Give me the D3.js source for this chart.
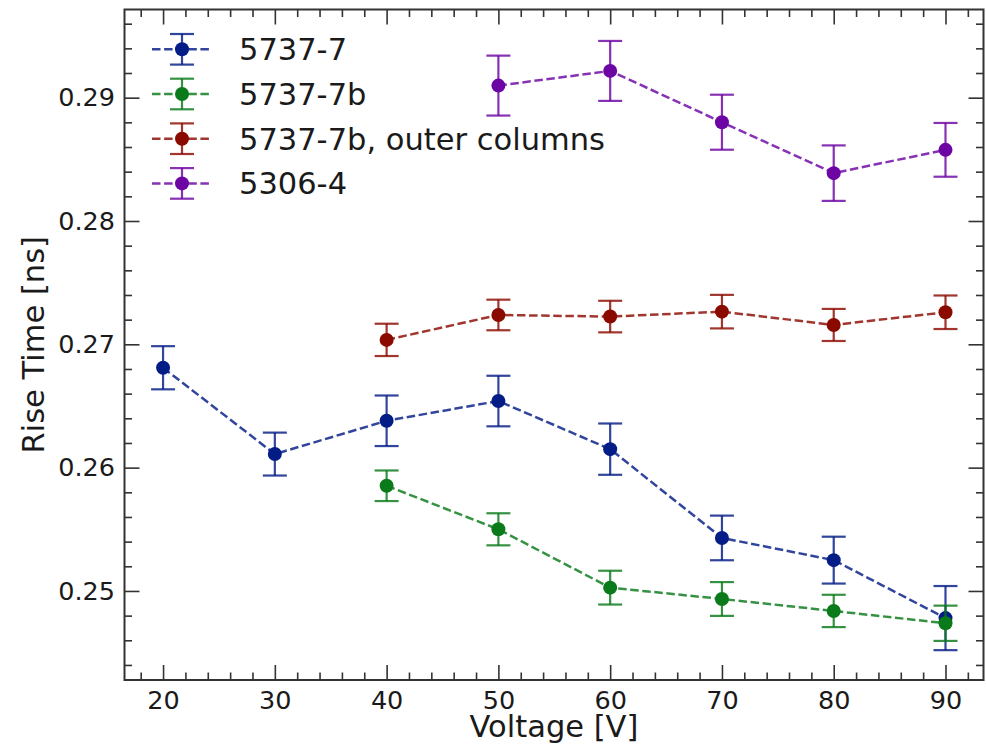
<!DOCTYPE html>
<html>
<head>
<meta charset="utf-8">
<script src="https://cdn.jsdelivr.net/npm/d3@7"></script>
<style>
  html, body { margin: 0; padding: 0; background: #fff; }
  svg { display: block; font-family: "DejaVu Sans", sans-serif; }
</style>
</head>
<body>
<svg id="chart" width="986" height="751"></svg>
<script>
// Rise time vs. bias voltage for several sensors (mean ± error)
const voltagesA = [20, 30, 40, 50, 60, 70, 80, 90];
const rise5737_7 = [0.2681, 0.2611, 0.2638, 0.2654, 0.2615, 0.2543, 0.2525, 0.2478];
const err5737_7 = [0.00175, 0.00174, 0.00205, 0.00205, 0.00208, 0.00181, 0.0019, 0.0026];

const voltagesB = [40, 50, 60, 70, 80, 90];
const rise5737_7b = [0.25853, 0.2550, 0.25027, 0.24935, 0.24838, 0.24738];
const err5737_7b = [0.00124, 0.0013, 0.00137, 0.00137, 0.00131, 0.00143];

const riseOuter = [0.27036, 0.27238, 0.27225, 0.27265, 0.27157, 0.2726];
const errOuter = [0.00131, 0.00124, 0.00128, 0.00136, 0.0013, 0.00136];

const voltagesC = [50, 60, 70, 80, 90];
const rise5306_4 = [0.29098, 0.29217, 0.28801, 0.28388, 0.28577];
const err5306_4 = [0.00243, 0.00243, 0.00223, 0.00225, 0.00218];

const seriesNames = ["5737-7", "5737-7b", "5737-7b, outer columns", "5306-4"];
const seriesColors = ["#041c86", "#0a7a1a", "#8b0a00", "#6c05a3"];

const xTicks = [20, 30, 40, 50, 60, 70, 80, 90];
const yTicks = [0.25, 0.26, 0.27, 0.28, 0.29];

const series = [
  { name: seriesNames[0], color: seriesColors[0], x: voltagesA, y: rise5737_7, e: err5737_7 },
  { name: seriesNames[1], color: seriesColors[1], x: voltagesB, y: rise5737_7b, e: err5737_7b },
  { name: seriesNames[2], color: seriesColors[2], x: voltagesB, y: riseOuter, e: errOuter },
  { name: seriesNames[3], color: seriesColors[3], x: voltagesC, y: rise5306_4, e: err5306_4 }
];

const plotLeft = 124.5, plotRight = 983.5, plotTop = 9.5, plotBottom = 680;
const svg = d3.select("#chart");

const x = d3.scaleLinear().domain([16.55, 93.4]).range([plotLeft, plotRight]);
const y = d3.scaleLinear().domain([0.24278, 0.29715]).range([plotBottom, plotTop]);

const axisColor = "#333";
const textColor = "#1a1a1a";
const majorLen = 15, minorLen = 7.5;
const tickFont = "25.5px", labelFont = "30.5px";

// minor tick positions
const xMinor = d3.range(18, 93, 2).filter(v => v % 10 !== 0);
const yMinor = d3.range(0.244, 0.2971, 0.002).filter(v => Math.abs(Math.round(v * 100) - v * 100) > 1e-6);

function styleAxis(g) {
  g.select(".domain").remove();
  g.selectAll(".tick line").attr("stroke", axisColor).attr("stroke-width", 1.6);
  g.selectAll(".tick text").attr("fill", textColor).style("font-size", tickFont)
    .style("font-family", "'DejaVu Sans', sans-serif");
}

// bottom axis (inward ticks)
svg.append("g").attr("transform", `translate(0,${plotBottom})`)
  .call(d3.axisBottom(x).tickValues(xTicks).tickSize(-majorLen).tickPadding(11).tickFormat(d3.format("d")))
  .call(styleAxis);
svg.append("g").attr("transform", `translate(0,${plotBottom})`)
  .call(d3.axisBottom(x).tickValues(xMinor).tickSize(-minorLen).tickFormat(""))
  .call(styleAxis);
// top axis
svg.append("g").attr("transform", `translate(0,${plotTop})`)
  .call(d3.axisTop(x).tickValues(xTicks).tickSize(-majorLen).tickFormat(""))
  .call(styleAxis);
svg.append("g").attr("transform", `translate(0,${plotTop})`)
  .call(d3.axisTop(x).tickValues(xMinor).tickSize(-minorLen).tickFormat(""))
  .call(styleAxis);
// left axis
svg.append("g").attr("transform", `translate(${plotLeft},0)`)
  .call(d3.axisLeft(y).tickValues(yTicks).tickSize(-majorLen).tickPadding(9.5).tickFormat(d3.format(".2f")))
  .call(styleAxis);
svg.append("g").attr("transform", `translate(${plotLeft},0)`)
  .call(d3.axisLeft(y).tickValues(yMinor).tickSize(-minorLen).tickFormat(""))
  .call(styleAxis);
// right axis
svg.append("g").attr("transform", `translate(${plotRight},0)`)
  .call(d3.axisRight(y).tickValues(yTicks).tickSize(-majorLen).tickFormat(""))
  .call(styleAxis);
svg.append("g").attr("transform", `translate(${plotRight},0)`)
  .call(d3.axisRight(y).tickValues(yMinor).tickSize(-minorLen).tickFormat(""))
  .call(styleAxis);

// frame
svg.append("rect")
  .attr("x", plotLeft).attr("y", plotTop)
  .attr("width", plotRight - plotLeft).attr("height", plotBottom - plotTop)
  .attr("fill", "none").attr("stroke", axisColor).attr("stroke-width", 2);

// axis labels
svg.append("text")
  .attr("x", (plotLeft + plotRight) / 2).attr("y", 737)
  .attr("text-anchor", "middle").attr("fill", textColor)
  .style("font-size", labelFont).text("Voltage [V]");
svg.append("text")
  .attr("transform", `translate(44,${(plotTop + plotBottom) / 2}) rotate(-90)`)
  .attr("text-anchor", "middle").attr("fill", textColor)
  .style("font-size", labelFont).text("Rise Time [ns]");

// data series
const capHalf = 12, markerR = 7, lineOpacity = 0.82;
const line = d3.line().x(d => x(d[0])).y(d => y(d[1]));

series.forEach(s => {
  const pts = s.x.map((v, i) => [v, s.y[i], s.e[i]]);
  const g = svg.append("g");
  g.append("path").datum(pts)
    .attr("d", line).attr("fill", "none")
    .attr("stroke", s.color).attr("stroke-opacity", lineOpacity)
    .attr("stroke-width", 2.5).attr("stroke-dasharray", "8.5,3.6");
  const eb = g.selectAll(".eb").data(pts).enter().append("g");
  eb.append("line")
    .attr("x1", d => x(d[0])).attr("x2", d => x(d[0]))
    .attr("y1", d => y(d[1] - d[2])).attr("y2", d => y(d[1] + d[2]));
  eb.append("line")
    .attr("x1", d => x(d[0]) - capHalf).attr("x2", d => x(d[0]) + capHalf)
    .attr("y1", d => y(d[1] + d[2])).attr("y2", d => y(d[1] + d[2]));
  eb.append("line")
    .attr("x1", d => x(d[0]) - capHalf).attr("x2", d => x(d[0]) + capHalf)
    .attr("y1", d => y(d[1] - d[2])).attr("y2", d => y(d[1] - d[2]));
  eb.selectAll("line").attr("stroke", s.color).attr("stroke-opacity", lineOpacity).attr("stroke-width", 2.2);
  g.selectAll(".mk").data(pts).enter().append("circle")
    .attr("cx", d => x(d[0])).attr("cy", d => y(d[1]))
    .attr("r", markerR).attr("fill", s.color);
});

// legend
const legX0 = 152, legX1 = 212, legMid = 182, legText = 239, legY0 = 49.3, legDy = 44.7;
series.forEach((s, i) => {
  const cy = legY0 + i * legDy;
  const g = svg.append("g");
  g.append("line").attr("x1", legX0).attr("x2", legX1).attr("y1", cy).attr("y2", cy)
    .attr("stroke", s.color).attr("stroke-opacity", lineOpacity)
    .attr("stroke-width", 2.5).attr("stroke-dasharray", "8.5,3.6");
  g.append("line").attr("x1", legMid).attr("x2", legMid).attr("y1", cy - 15.3).attr("y2", cy + 15.3);
  g.append("line").attr("x1", legMid - capHalf).attr("x2", legMid + capHalf).attr("y1", cy - 15.3).attr("y2", cy - 15.3);
  g.append("line").attr("x1", legMid - capHalf).attr("x2", legMid + capHalf).attr("y1", cy + 15.3).attr("y2", cy + 15.3);
  g.selectAll("line").filter((d, j) => j > 0)
    .attr("stroke", s.color).attr("stroke-opacity", lineOpacity).attr("stroke-width", 2.2);
  g.append("circle").attr("cx", legMid).attr("cy", cy).attr("r", markerR).attr("fill", s.color);
  g.append("text").attr("x", legText).attr("y", cy).attr("dy", "0.36em")
    .attr("fill", textColor).style("font-size", labelFont).text(s.name);
});
</script>
</body>
</html>
